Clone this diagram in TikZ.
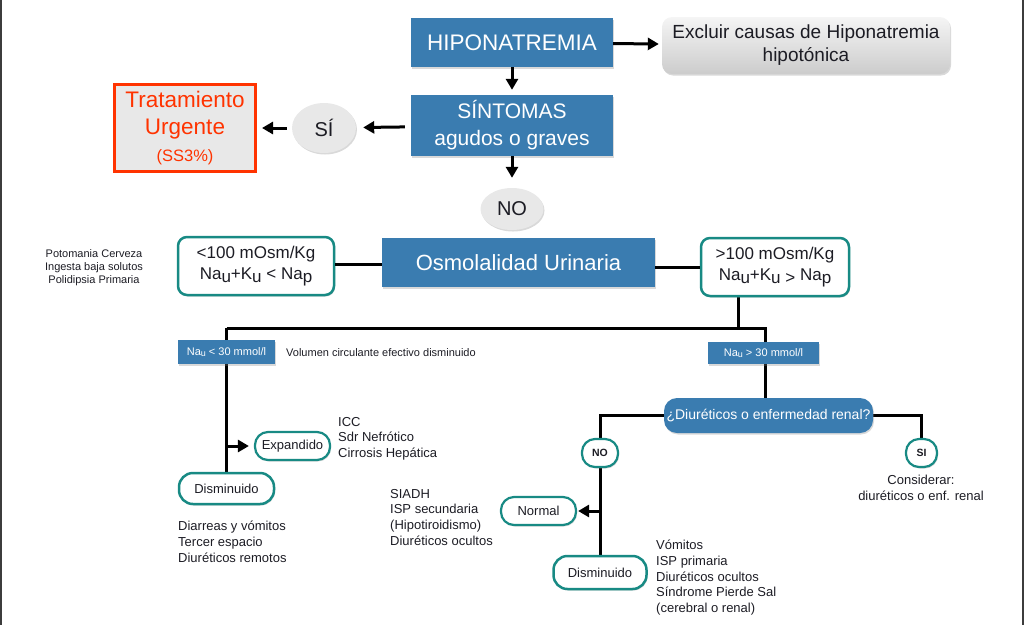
\documentclass[tikz,border=0pt]{standalone}
\usepackage{fontspec}
\setmainfont{Liberation Sans}
\usetikzlibrary{arrows.meta,shapes,shadows,backgrounds,positioning,calc}

\definecolor{hiblue}{RGB}{58,124,176}
\definecolor{tealc}{RGB}{24,138,132}
\definecolor{redc}{RGB}{255,51,0}
\definecolor{lgray}{RGB}{232,232,232}
\definecolor{txtc}{RGB}{28,28,36}
\definecolor{framec}{RGB}{60,60,60}

\newcommand{\fs}[2]{\fontsize{#1}{#2}\selectfont}
\newcommand{\lowtxt}[1]{\raisebox{-0.35ex}{#1}}

\begin{document}
\begin{tikzpicture}[x=1pt, y=-1pt, >={Triangle[length=11pt,width=12pt]}]
    \tikzset{
        a/.style={->, line width=3pt},
        ln/.style={line width=3pt},
        shd/.style={drop shadow={shadow xshift=1pt, shadow yshift=-1.5pt, opacity=0.3}},
        blu/.style={fill=hiblue, text=white, inner sep=0pt, align=center, shd},
        tbox/.style={draw=tealc, line width=2.5pt, fill=white, text=txtc, inner sep=0pt, align=center, rounded corners=9pt, shd},
        gel/.style={ellipse, fill=lgray, text=txtc, inner sep=0pt, shd},
        lst/.style={text=txtc, align=left, inner sep=0pt, font=\fs{13}{15.7}}
    }
    \useasboundingbox (0,0) rectangle (1024,625);
    \draw [framec, line width=2pt] (1,0) -- (1,625) (1023,0) -- (1023,625);

    % top part
    \node at (512,42.5) [blu, minimum width=202pt, minimum height=49pt, font=\fs{22.5}{26}] (hipo) {HIPONATREMIA};
    \node at (512,125.5) [blu, minimum width=202pt, minimum height=61pt, font=\fs{21}{27}] (sint) {SÍNTOMAS\\agudos o graves};
    \node at (512,209) [gel, minimum width=63pt, minimum height=42pt, font=\fs{20}{24}] (no1) {NO};
    \node at (806,45.5) [rounded corners=10pt, top color=white!96!black, bottom color=white!80!black, text=txtc, minimum width=288pt, minimum height=57pt, inner sep=0pt, align=center, font=\fs{19}{23}, shd] (excl) {Excluir causas de Hiponatremia\\hipotónica};
    \node at (324,128) [gel, minimum width=64pt, minimum height=50pt, font=\fs{20}{24}] (si1) {SÍ};
    \node at (185,128) [draw=redc, line width=3pt, fill=lgray, text=redc, minimum width=141pt, minimum height=87pt, inner sep=0pt, align=center, font=\fs{22.5}{27}] (trat) {Tratamiento\\Urgente\\{\fs{16.5}{24}(SS3\%)}};

    \draw [a, shorten >=5pt] (hipo) -- (sint);
    \draw [a, shorten >=10pt] (sint) -- (no1);
    \draw [a, shorten >=3pt] (hipo) -- (excl);
    \draw [a, shorten <=6pt, shorten >=7pt] (sint) -- (si1);
    \draw [a, shorten <=5pt, shorten >=5pt] (si1) -- (trat);

    % osmolalidad
    \node at (94,268) [text=txtc, align=center, inner sep=0pt, font=\fs{11}{13}] (poto) {Potomania Cerveza\\Ingesta baja solutos\\Polidipsia Primaria};
    \node at (256,266) [tbox, minimum width=156pt, minimum height=58pt, font=\fs{17}{21}] (low) {<100 mOsm/Kg\\Na\lowtxt{u}+K\lowtxt{u} < Na\lowtxt{p}};
    \node at (518.5,262.5) [blu, minimum width=273pt, minimum height=49pt, font=\fs{22}{26}] (osm) {Osmolalidad Urinaria};
    \node at (775,267) [tbox, minimum width=148pt, minimum height=58pt, font=\fs{17}{21}] (high) {>100 mOsm/Kg\\Na\lowtxt{u}+K\lowtxt{u} \lowtxt{>} Na\lowtxt{p}};

    \draw [ln] (low.east |- 0,264) -- (osm.west |- 0,264);
    \draw [ln] (osm.east |- high) -- (high);

    \coordinate (mid) at (738,328);
    \coordinate (ljn) at (226.5,328);
    \coordinate (rjn) at (765,328);

    % sodio urinario
    \node at (226.5,352) [blu, minimum width=97pt, minimum height=24pt, font=\fs{11}{13}] (nalow) {Na{\fs{9}{10}\lowtxt{u}} < 30 mmol/l};
    \node at (763.5,353) [blu, minimum width=111pt, minimum height=22pt, font=\fs{11}{13}] (nahigh) {Na{\fs{9}{10}\lowtxt{u}} > 30 mmol/l};
    \node at (286,353) [anchor=west, text=txtc, inner sep=0pt, font=\fs{11}{13}] (vol) {Volumen circulante efectivo disminuido};

    % rama izquierda
    \node at (292.5,446) [tbox, rounded corners=13pt, line width=2.2pt, minimum width=75pt, minimum height=28pt, font=\fs{13}{15}] (expand) {Expandido};
    \node at (338,417) [lst, anchor=north west] (icc) {ICC\\Sdr Nefrótico\\Cirrosis Hepática};
    \node at (226.5,488.5) [tbox, rounded corners=14pt, minimum width=95pt, minimum height=31pt, font=\fs{13}{15}] (dism1) {Disminuido};
    \node at (178,521) [lst, anchor=north west] (diarr) {Diarreas y vómitos\\Tercer espacio\\Diuréticos remotos};

    % rama derecha
    \node at (768.5,415.5) [blu, rounded corners=13pt, minimum width=209pt, minimum height=35pt, font=\fs{14}{16}] (diur) {¿Diuréticos o enfermedad renal?};
    \node at (600,453) [tbox, rounded corners=13pt, line width=2.2pt, minimum width=36pt, minimum height=28pt, font=\bfseries\fs{10.5}{12}] (nonode) {NO};
    \node at (921.5,453) [tbox, rounded corners=13pt, line width=2.2pt, minimum width=31pt, minimum height=28pt, font=\bfseries\fs{10.5}{12}] (sinode) {SI};
    \node at (921,488) [text=txtc, align=center, inner sep=0pt, font=\fs{13}{16}] (consid) {Considerar:\\diuréticos o enf. renal};
    \node at (538.5,511) [tbox, rounded corners=13pt, line width=2.2pt, minimum width=75pt, minimum height=28pt, font=\fs{13}{15}] (normal) {Normal};
    \node at (390,489) [lst, anchor=north west] (siadh) {SIADH\\ISP secundaria\\(Hipotiroidismo)\\Diuréticos ocultos};
    \node at (600,572.5) [tbox, rounded corners=14pt, minimum width=93pt, minimum height=33pt, font=\fs{13}{15}] (dism2) {Disminuido};
    \node at (656,540) [lst, anchor=north west] (vomi) {Vómitos\\ISP primaria\\Diuréticos ocultos\\Síndrome Pierde Sal\\(cerebral o renal)};

    \begin{pgfonlayer}{background}
        \draw [ln] (mid |- high.south) -- (mid);
        \draw [ln] (ljn) -- (rjn) -- (rjn |- diur.north);
        \draw [ln] (ljn) -- (ljn |- dism1.north);
        \draw [ln] (diur.west) -| (nonode.north);
        \draw [ln] (diur.east) -| (sinode.north);
        \draw [ln] (nonode) -- (dism2);
    \end{pgfonlayer}
    \draw [a, shorten >=5pt] (ljn |- expand) -- (expand.west);
    \draw [a, shorten >=1pt] (nonode |- normal) -- (normal.east);

\end{tikzpicture}
\end{document}
